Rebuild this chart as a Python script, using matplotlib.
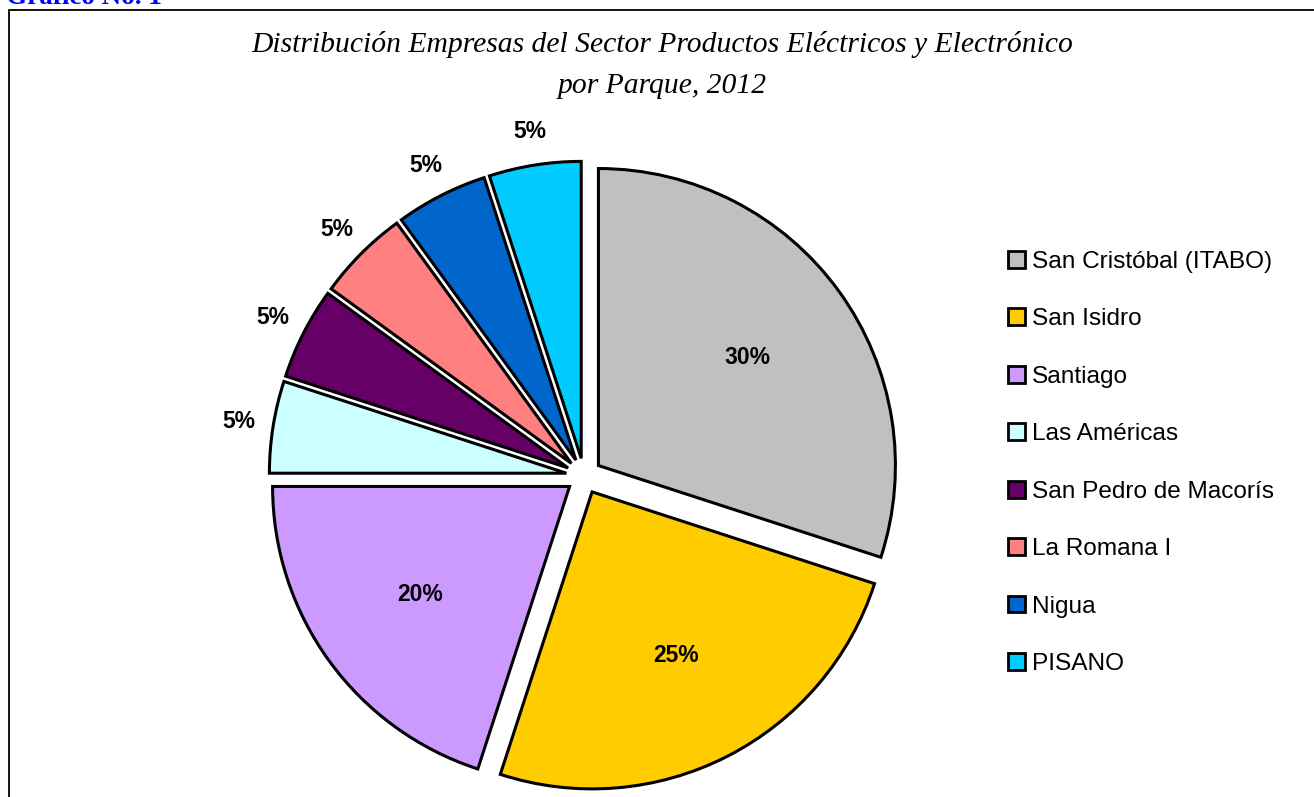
import matplotlib
matplotlib.use("Agg")
import matplotlib.pyplot as plt
from matplotlib.patches import Rectangle
import numpy as np

categories = ["San Cristóbal (ITABO)", "San Isidro", "Santiago", "Las Américas",
              "San Pedro de Macorís", "La Romana I", "Nigua", "PISANO"]
values = [30, 25, 20, 5, 5, 5, 5, 5]
colors = ["#C0C0C0", "#FFCC00", "#CC99FF", "#CCFFFF", "#660066", "#FF8080", "#0066CC", "#00CCFF"]
title = "Distribución Empresas del Sector Productos Eléctricos y Electrónico\npor Parque, 2012"
header = "Gráfico No. 1"

W, H = 1314, 797
fig = plt.figure(figsize=(W / 100, H / 100), dpi=100)

# pie geometry in pixel terms
cx, cy, R = 584, 476, 297
ax = fig.add_axes([0, 0, 1, 1])
ax.axis("off")

wedges, _ = ax.pie(values, colors=colors, startangle=90, counterclock=False,
                   explode=[0.06] * len(values), radius=1.0, center=(0, 0),
                   wedgeprops=dict(edgecolor="black", linewidth=2.2))
ax.set_xlim(-cx / R, (W - cx) / R)
ax.set_ylim((cy - H) / R, cy / R)
ax.set_aspect("auto")

for w, v in zip(wedges, values):
    th = np.deg2rad(0.5 * (w.theta1 + w.theta2))
    rho = 0.62 if v >= 10 else 1.115
    x0, y0 = w.center
    ax.text(x0 + rho * np.cos(th), y0 + rho * np.sin(th), f"{v}%",
            ha="center", va="center", fontsize=16.5, fontweight="bold",
            family="Liberation Sans", color="black")

# legend
handles = [Rectangle((0, 0), 1, 1, facecolor=c, edgecolor="black", linewidth=2) for c in colors]
leg = fig.legend(handles, categories, loc="center left", bbox_to_anchor=(1008 / W, 1 - 463 / H),
                 frameon=False, prop=dict(family="Liberation Sans", size=17.6),
                 handlelength=0.68, handleheight=0.68, handletextpad=0.3, labelspacing=1.45,
                 borderpad=0, borderaxespad=0)

fig.text(662 / W, 1 - 65 / H, title, ha="center", va="center", fontsize=21.3,
         family="Liberation Serif", style="italic", linespacing=1.72)

fig.text(6 / W, 1 - 4 / H, header, ha="left", va="baseline", fontsize=19.5,
         family="Liberation Serif", fontweight="bold", color="#0000FF")

# chart frame
fig.add_artist(Rectangle((8.5 / W, -0.1), 1.2, 1 - 9.5 / H + 0.1, transform=fig.transFigure,
                         fill=False, edgecolor="black", linewidth=1.3))

fig.savefig("out.png", dpi=100)
